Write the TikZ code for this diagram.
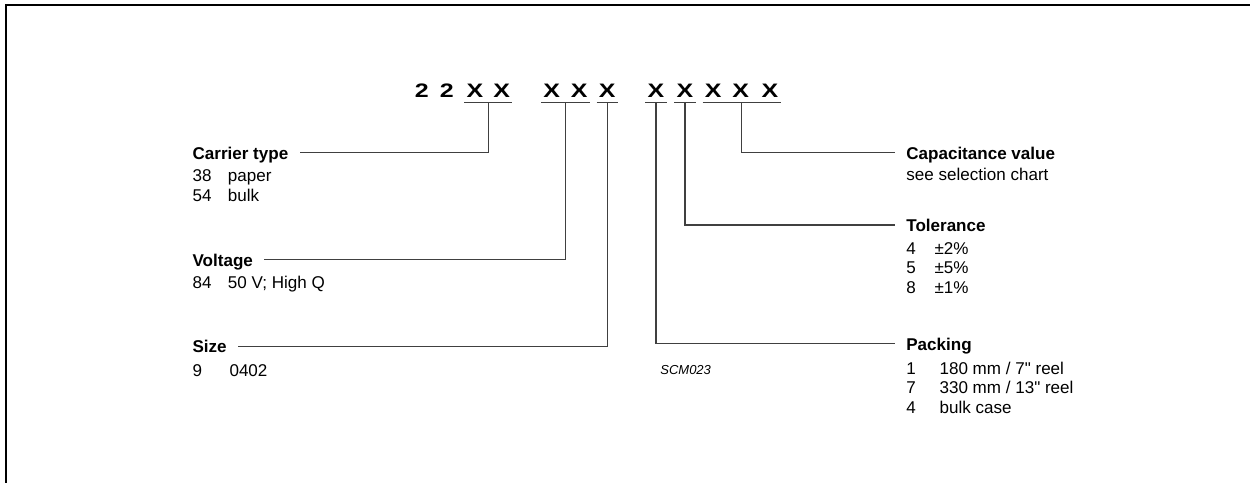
\documentclass[tikz,border=0pt]{standalone}
\usepackage{fontspec}
\setmainfont{Liberation Sans}
\usepackage{tikz}
\usetikzlibrary{calc}
\newcommand{\txtsz}{\fontsize{9.7pt}{11pt}\selectfont}
\newcommand{\kv}[3]{\makebox[#1][l]{#2}#3}
\newcommand{\wide}[1]{\scalebox{1.28}[1]{#1}}
\begin{document}
\begin{tikzpicture}[x=0.02cm, y=-0.02cm, font=\txtsz,
  cd/.style={font=\fontsize{11.1pt}{13pt}\selectfont\bfseries, anchor=base, inner sep=0pt},
  hd/.style={font=\txtsz\bfseries, anchor=base west, inner xsep=6.4pt, inner ysep=0pt, text height=7.6pt, text depth=0pt},
  ds/.style={font=\txtsz, anchor=north west, inner sep=0pt, align=left},
  ln/.style={draw=black!75, line width=0.6pt}]
\useasboundingbox (0,0) rectangle (1250,483);
\draw[line width=1.3pt] (6,483) -- (6,5.3) -- (1250,5.3);
% type code
\foreach \x/\c [count=\i] in {421.7/2, 446.7/2, 475/X, 501.7/X, 551.7/X, 579.3/X, 607.3/X, 656/X, 685/X, 713.3/X, 740.7/X, 770/X}
  \node[cd] (c\i) at (\x,97) {\wide{\c}};
\foreach \a/\b/\n in {3/4/1, 5/6/2, 7/7/3, 8/8/4, 9/9/5, 10/12/6} {
  \draw[ln] ($(c\a.base west)+(-2,5.3)$) coordinate (ua\n) -- ($(c\b.base east)+(2,5.3)$) coordinate (ub\n);
  \coordinate (u\n) at ($(ua\n)!0.5!(ub\n)$);
}
% left side
\node[hd] (carrier) at (181,159.3) {Carrier type};
\node[ds] (carrierd) at (192.3,169.5) {\kv{20.1pt}{38}{paper}\\\kv{20.1pt}{54}{bulk}};
\node[hd] (volt) at (181,266) {Voltage};
\node[ds] (voltd) at (192.3,275.5) {\kv{20.1pt}{84}{50 V; High Q}};
\node[hd] (size) at (181,352.7) {Size};
\node[ds] (sized) at (192.3,363.8) {\kv{21pt}{9}{0402}};
% right side
\node[hd] (cap) at (894.75,159.3) {Capacitance value};
\node[ds] (capd) at (906,167.6) {see selection chart};
\node[hd] (tol) at (894.75,231.7) {Tolerance};
\node[ds] (told) at (906,242.1) {\kv{16.1pt}{4}{±2\%}\\\kv{16.1pt}{5}{±5\%}\\\kv{16.1pt}{8}{±1\%}};
\node[hd] (pack) at (894.75,350) {Packing};
\node[ds] (packd) at (906,361.8) {\kv{18.9pt}{1}{180 mm / 7\textquotedbl\ reel}\\\kv{18.9pt}{7}{330 mm / 13\textquotedbl\ reel}\\\kv{18.9pt}{4}{bulk case}};
\node[font=\fontsize{7.4pt}{9pt}\selectfont\itshape, anchor=base west, inner sep=0pt] (scm) at (660,374) {SCM023};
% leaders
\draw[ln] (u1) |- (carrier.east);
\draw[ln] (u2) |- (volt.east);
\draw[ln] (u3) |- (size.east);
\draw[ln] (u4) |- (pack.west);
\draw[ln] (u5) |- (tol.west);
\draw[ln] (u6) |- (cap.west);
\end{tikzpicture}
\end{document}
